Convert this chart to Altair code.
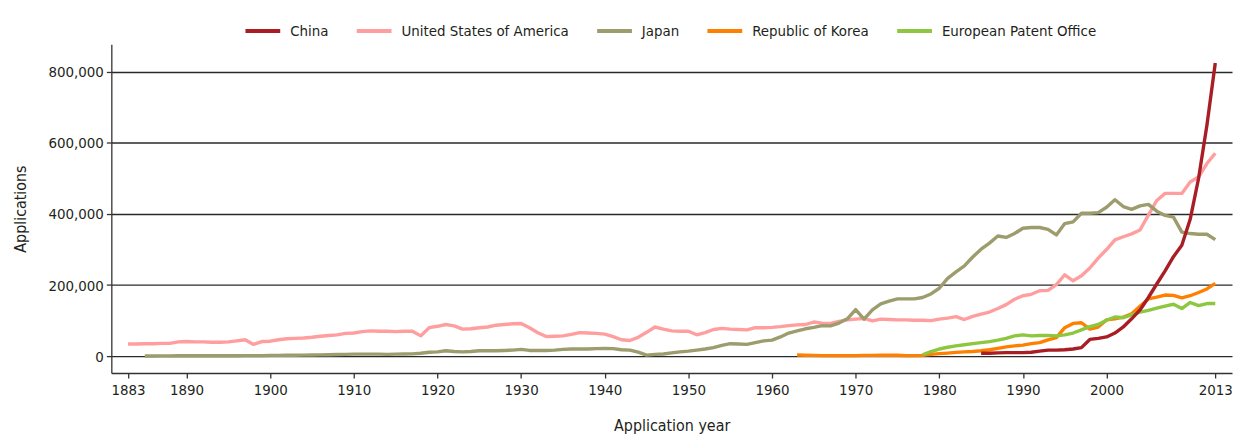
import altair as alt
import pandas as pd

# ---- data (applications, in thousands) ----
series_names = ["China", "United States of America", "Japan",
                "Republic of Korea", "European Patent Office"]
series_colors = ["#A81E24", "#FF9E9E", "#9C9C6C", "#FF8000", "#8DC63F"]

usa_start = 1883
usa_values = [
    34, 34, 35, 35, 36, 36, 40,
    41, 40, 40, 39, 39, 40, 43, 46, 33, 41,
    42, 46, 49, 50, 51, 53, 56, 58, 60, 64,
    65, 69, 71, 70, 70, 69, 70, 70, 57, 80,
    84, 89, 85, 76, 77, 80, 82, 87, 89, 91,
    92, 80, 66, 55, 56, 57, 61, 66, 65, 64,
    62, 55, 46, 44, 53, 67, 82, 76, 71, 70,
    70, 60, 66, 75, 78, 76, 75, 74, 80, 80,
    81, 83, 86, 88, 89, 96, 93, 92, 98, 102,
    104, 106, 99, 104, 103, 102, 102, 101, 101, 100,
    104, 107, 111, 103, 112, 118, 124, 134, 145, 160,
    170, 174, 184, 185, 201, 229, 212, 226, 248, 276,
    300, 327, 336, 344, 355, 397, 438, 458, 458, 458,
    490, 504, 542, 571,
]

japan_start = 1885
japan_values = [
    0.4, 0.5, 0.6, 0.8, 0.9,
    1.0, 1.0, 1.0, 1.0, 1.0, 1.1, 1.2, 1.3, 1.3, 1.5,
    2.0, 2.2, 2.4, 2.6, 2.8, 3.0, 3.5, 4.0, 4.5, 5.0,
    5.5, 5.5, 5.5, 5.5, 5.0, 5.5, 6.0, 6.5, 8.0, 11,
    12, 15, 13, 12, 13, 15, 15, 15, 16, 17,
    19, 16, 16, 16, 17, 19, 20, 20, 20, 21,
    22, 21, 18, 17, 11, 3, 5, 6, 9, 12,
    14, 17, 20, 24, 30, 35, 34, 33, 38, 43,
    45, 54, 65, 71, 77, 81, 86, 85, 93, 105,
    131, 104, 130, 147, 155, 161, 161, 161, 165, 175,
    191, 219, 237, 254, 279, 301, 318, 338, 334, 345,
    360, 362, 362, 357, 341, 373, 378, 402, 402, 404,
    419, 440, 421, 413, 423, 427, 408, 396, 391, 349,
    345, 343, 343, 328,
]

korea_start = 1963
korea_values = [
    3, 2.5, 2, 1.5, 1.5, 1.5, 1.5,
    1.5, 2, 2, 2.5, 2.5, 2.5, 1.5, 1.5, 2, 5,
    7, 8.5, 10.5, 12, 13, 15, 18, 22, 26, 29,
    31, 35, 38, 46, 52, 80, 92, 94, 76, 82,
    102, 105, 110, 119, 140, 161, 166, 172, 171, 164,
    170, 179, 189, 205,
]

epo_start = 1978
epo_values = [
    4, 13,
    20, 25, 29, 32, 35, 38, 41, 45, 50, 57,
    60, 57, 58, 58, 57, 60, 65, 74, 83, 89,
    101, 110, 108, 116, 124, 129, 135, 141, 146, 134,
    151, 142, 148, 148,
]

china_start = 1985
china_values = [
    8, 8, 9, 10, 10,
    10, 11, 14, 17, 17, 18, 20, 24, 47, 50,
    54, 65, 82, 105, 130, 165, 203, 240, 280, 312,
    385, 500, 650, 825,
]

x_ticks = [1883, 1890, 1900, 1910, 1920, 1930, 1940, 1950,
           1960, 1970, 1980, 1990, 2000, 2013]
y_ticks = [0, 200000, 400000, 600000, 800000]

# ---- long table (drawing order: China last, on top) ----
rows = []
for name, start, vals in [
    ("United States of America", usa_start, usa_values),
    ("Japan", japan_start, japan_values),
    ("Republic of Korea", korea_start, korea_values),
    ("European Patent Office", epo_start, epo_values),
    ("China", china_start, china_values),
]:
    for i, v in enumerate(vals):
        rows.append({"series": name, "year": start + i, "applications": v * 1000})
df = pd.DataFrame(rows)

FONT = "DejaVu Sans Condensed, Liberation Sans Narrow, Roboto Condensed, sans-serif"
TXT = "#231F20"

chart = (
    alt.Chart(df)
    .mark_line(strokeWidth=3.4, strokeJoin="round")
    .encode(
        x=alt.X(
            "year:Q",
            scale=alt.Scale(domain=[1881, 2015], nice=False, zero=False),
            axis=alt.Axis(
                values=x_ticks, format="d", title="Application year",
                grid=False, tickSize=5, labelPadding=5, titlePadding=20,
                labelFlush=False,
            ),
        ),
        y=alt.Y(
            "applications:Q",
            scale=alt.Scale(domain=[-47500, 878000], nice=False, zero=False),
            axis=alt.Axis(
                values=y_ticks, format=",.0f", title="Applications",
                grid=True, tickSize=5, labelPadding=3, titlePadding=20,
            ),
        ),
        color=alt.Color(
            "series:N",
            scale=alt.Scale(domain=series_names, range=series_colors),
            legend=alt.Legend(
                orient="none", legendX=133, legendY=-33,
                direction="horizontal", title=None,
                symbolType="stroke", symbolStrokeWidth=4, symbolSize=1225,
                labelFont=FONT, labelFontSize=15, labelColor=TXT,
                labelOffset=8, columnPadding=20, labelLimit=400,
            ),
        ),
    )
    .properties(
        width=1128, height=331,
        autosize=alt.AutoSizeParams(type="none"),
        padding={"left": 104, "top": 35, "right": 1, "bottom": 60},
    )
    .configure_view(strokeWidth=0)
    .configure_axis(
        labelFont=FONT, titleFont=FONT, labelFontSize=15, titleFontSize=16,
        titleFontWeight="normal", labelColor=TXT, titleColor=TXT,
        domainColor="#333333", tickColor="#333333", domainWidth=1.3,
        tickWidth=1.3, gridColor="#2a2a2a", gridWidth=1.4, gridOpacity=1,
    )
)

chart.save("out.html", embed_options={"renderer": "svg", "actions": False})
